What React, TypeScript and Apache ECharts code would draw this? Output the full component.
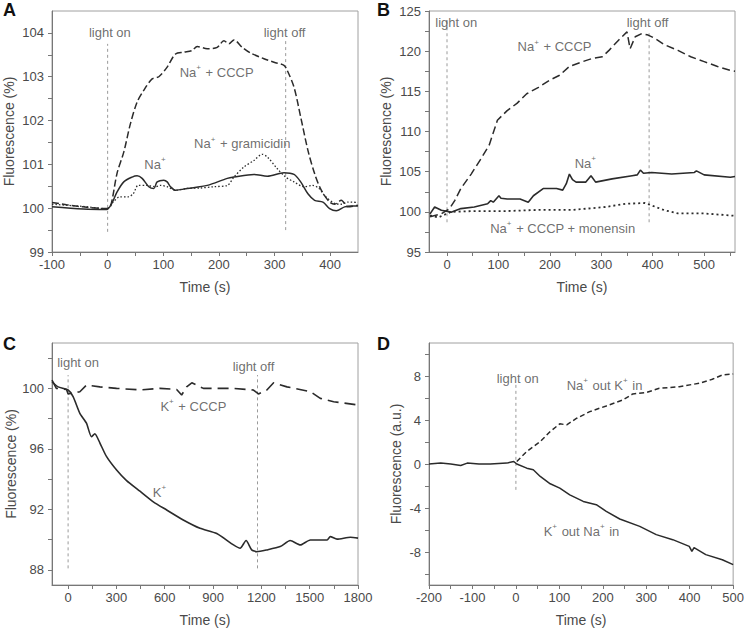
import React, { useEffect, useRef } from 'react';
import * as echarts from 'echarts';

// ---------- Panel A : Na+ experiments (time s, fluorescence %) ----------
const A_NA_CCCP: [number, number][] = [
  [-100, 100.13], [-74, 100.08], [-44, 100.03], [-2, 99.99], [5, 100.03], [17, 100.8], [29, 101.28],
  [41, 101.93], [53, 102.42], [65, 102.69], [80, 102.95], [92, 103.0], [107, 103.22], [122, 103.52],
  [137, 103.56], [152, 103.6], [161, 103.69], [179, 103.64], [197, 103.67], [209, 103.82], [218, 103.75],
  [227, 103.84], [242, 103.67], [257, 103.54], [281, 103.41], [299, 103.33], [317, 103.26], [323, 103.14],
  [335, 102.76], [347, 102.08], [360, 101.32], [372, 100.79], [384, 100.41], [399, 100.14], [408, 100.09],
  [420, 100.18], [432, 100.03], [450, 100.07],
];
const A_NA: [number, number][] = [
  [-100, 100.03], [-44, 99.98], [-2, 99.97], [7, 100.1], [17, 100.37], [29, 100.6], [44, 100.71],
  [53, 100.74], [62, 100.68], [74, 100.49], [83, 100.45], [89, 100.6], [101, 100.64], [107, 100.6],
  [113, 100.49], [122, 100.41], [143, 100.45], [179, 100.52], [215, 100.68], [227, 100.71], [263, 100.77],
  [287, 100.73], [317, 100.81], [335, 100.77], [347, 100.6], [360, 100.33], [372, 100.18], [387, 100.14],
  [399, 99.99], [411, 99.94], [426, 100.03], [438, 100.05], [450, 100.05],
];
const A_NA_GRAMICIDIN: [number, number][] = [
  [-100, 100.09], [-44, 100.04], [-2, 99.99], [10, 100.14], [22, 100.26], [37, 100.26], [46, 100.33],
  [55, 100.52], [70, 100.52], [86, 100.49], [95, 100.52], [107, 100.49], [122, 100.41], [143, 100.45],
  [167, 100.46], [191, 100.49], [215, 100.52], [227, 100.71], [245, 100.94], [263, 101.09], [278, 101.23],
  [287, 101.17], [305, 100.9], [320, 100.71], [335, 100.6], [353, 100.49], [368, 100.52], [380, 100.45],
  [392, 100.26], [408, 100.11], [420, 100.09], [432, 100.14], [450, 100.13],
];

// ---------- Panel B ----------
const B_NA_CCCP: [number, number][] = [
  [-33, 99.4], [-11, 99.75], [5, 100.4], [15, 101.4], [27, 102.9], [47, 104.7], [66, 106.6], [82, 108.3],
  [98, 111.4], [117, 112.6], [136, 113.5], [155, 114.7], [178, 115.5], [200, 116.4], [219, 117.0],
  [238, 118.1], [264, 118.7], [283, 119.1], [302, 119.3], [315, 120.1], [334, 121.4], [350, 122.4],
  [356, 120.3], [366, 121.8], [379, 122.2], [391, 122.0], [404, 121.6], [423, 120.8], [449, 120.1],
  [474, 119.3], [500, 118.7], [526, 118.1], [551, 117.6], [560, 117.5],
];
const B_NA: [number, number][] = [
  [-33, 99.75], [-24, 100.6], [-11, 100.2], [8, 99.96], [27, 100.4], [53, 100.6], [79, 101.0], [85, 101.4],
  [90, 101.2], [101, 102.0], [105, 101.7], [117, 101.6], [142, 101.6], [158, 101.2], [168, 102.0],
  [187, 102.9], [213, 102.9], [225, 102.7], [232, 103.5], [238, 104.7], [244, 104.0], [251, 103.7],
  [270, 103.7], [280, 104.5], [289, 103.7], [321, 104.1], [360, 104.5], [370, 104.6], [376, 105.2],
  [382, 104.8], [398, 104.9], [437, 104.7], [481, 104.9], [485, 105.1], [500, 104.6], [551, 104.3],
  [560, 104.4],
];
const B_NA_CCCP_MONENSIN: [number, number][] = [
  [-33, 99.55], [-17, 99.3], [8, 100.0], [53, 100.1], [117, 100.1], [181, 100.25], [245, 100.25],
  [308, 100.6], [347, 101.0], [385, 101.1], [398, 100.8], [423, 100.2], [449, 99.8], [500, 99.8],
  [551, 99.55], [560, 99.5],
];

// ---------- Panel C ----------
const C_K_CCCP: [number, number][] = [
  [-100, 100.55], [-73, 100.0], [-10, 99.93], [0, 99.63], [73, 99.78], [114, 100.22], [197, 100.1],
  [301, 100.0], [446, 99.9], [570, 100.0], [674, 99.93], [705, 99.56], [736, 100.1], [768, 100.37],
  [840, 100.0], [1027, 100.0], [1151, 99.89], [1182, 99.63], [1234, 99.89], [1276, 100.37], [1359, 100.1],
  [1504, 99.78], [1566, 99.34], [1649, 99.12], [1800, 98.9],
];
const C_K: [number, number][] = [
  [-100, 100.44], [-62, 100.1], [0, 99.89], [31, 99.45], [73, 98.35], [114, 97.7], [145, 96.8],
  [166, 97.0], [197, 96.4], [238, 95.5], [301, 94.6], [363, 93.9], [446, 93.2], [529, 92.5], [612, 91.96],
  [715, 91.3], [819, 90.75], [923, 90.4], [1027, 89.65], [1068, 89.43], [1105, 89.94], [1140, 89.32],
  [1172, 89.2], [1234, 89.32], [1317, 89.54], [1379, 89.94], [1442, 89.65], [1504, 89.98], [1608, 89.98],
  [1628, 90.2], [1670, 90.03], [1753, 90.16], [1800, 90.1],
];

// ---------- Panel D ----------
const D_K_OUT_NA_IN: [number, number][] = [
  [-200, 0.0], [-173, 0.08], [-150, 0.0], [-127, -0.14], [-112, 0.08], [-85, 0.0], [-59, 0.0],
  [-40, 0.05], [-21, 0.08], [-5, 0.23], [2, 0.0], [25, -0.38], [40, -0.53], [56, -1.13], [79, -1.8],
  [101, -2.19], [124, -2.8], [155, -3.4], [185, -3.7], [208, -4.3], [239, -5.0], [285, -5.67],
  [323, -6.42], [361, -6.88], [399, -7.49], [405, -7.95], [410, -7.6], [437, -8.24], [475, -8.7],
  [500, -9.15],
];
const D_NA_OUT_K_IN: [number, number][] = [
  [2, 0.23], [25, 1.13], [56, 2.04], [79, 2.95], [101, 3.65], [117, 3.56], [140, 4.16], [170, 4.76],
  [208, 5.28], [246, 5.82], [269, 6.37], [300, 6.49], [330, 6.88], [376, 7.03], [422, 7.34], [452, 7.7],
  [475, 8.09], [500, 8.18],
];

// ---------- light on / off markers (panel, time, y from, y to) ----------
const LIGHT_MARKS: [number, number, number, number][] = [
  [0, 0, 99.46, 103.75],
  [0, 320, 99.5, 103.86],
  [1, 0, 98.7, 123.7],
  [1, 393, 98.7, 122.4],
  [2, 0, 88.1, 100.88],
  [2, 1176, 88.1, 100.88],
  [3, 0, -2.35, 7.2],
];

// ---------- text annotations (panel, time, y, rich text) ----------
const ANNOTATIONS: [number, number, number, string][] = [
  [0, 4, 104.03, '{n|light on}'],
  [0, 318, 104.03, '{n|light off}'],
  [0, 196, 103.13, '{n|Na}{s|+}{n| + CCCP}'],
  [0, 242, 101.49, '{n|Na}{s|+}{n| + gramicidin}'],
  [0, 86, 101.02, '{n|Na}{s|+}'],
  [1, 18, 123.7, '{n|light on}'],
  [1, 390, 123.7, '{n|light off}'],
  [1, 209, 120.7, '{n|Na}{s|+}{n| + CCCP}'],
  [1, 270, 106.2, '{n|Na}{s|+}'],
  [1, 225, 98.1, '{n|Na}{s|+}{n| + CCCP + monensin}'],
  [2, 62, 101.76, '{n|light on}'],
  [2, 1151, 101.5, '{n|light off}'],
  [2, 778, 98.9, '{n|K}{s|+}{n| + CCCP}'],
  [2, 570, 93.2, '{n|K}{s|+}'],
  [3, 4, 7.9, '{n|light on}'],
  [3, 204, 7.25, '{n|Na}{s|+}{n| out K}{s|+}{n| in}'],
  [3, 151, -6.0, '{n|K}{s|+}{n| out Na}{s|+}{n| in}'],
];

// ---------- axes ----------
const X_RANGES: [number, number][] = [[-100, 450], [-35, 560], [-100, 1800], [-200, 500]];
const Y_RANGES: [number, number][] = [[99, 104.5], [95, 125], [87, 103], [-11, 11]];
const X_LABELS: number[][] = [
  [-100, 0, 100, 200, 300, 400],
  [0, 100, 200, 300, 400, 500],
  [0, 300, 600, 900, 1200, 1500, 1800],
  [-200, -100, 0, 100, 200, 300, 400, 500],
];
const X_TICKS: number[][] = [
  [-100, -50, 0, 50, 100, 150, 200, 250, 300, 350, 400],
  [0, 50, 100, 150, 200, 250, 300, 350, 400, 450, 500, 550],
  [0, 150, 300, 450, 600, 750, 900, 1050, 1200, 1350, 1500, 1650, 1800],
  [-200, -150, -100, -50, 0, 50, 100, 150, 200, 250, 300, 350, 400, 450, 500],
];
const Y_LABELS: number[][] = [
  [99, 100, 101, 102, 103, 104],
  [95, 100, 105, 110, 115, 120, 125],
  [88, 92, 96, 100],
  [-8, -4, 0, 4, 8],
];
const Y_TICKS: number[][] = [
  [99, 99.5, 100, 100.5, 101, 101.5, 102, 102.5, 103, 103.5, 104],
  [95, 97.5, 100, 102.5, 105, 107.5, 110, 112.5, 115, 117.5, 120, 122.5, 125],
  [88, 90, 92, 94, 96, 98, 100, 102],
  [-10, -8, -6, -4, -2, 0, 2, 4, 6, 8, 10],
];
const Y_TITLES = ['Fluorescence (%)', 'Fluorescence (%)', 'Fluorescence (%)', 'Fluorescence (a.u.)'];
const PANEL_LETTERS = ['A', 'B', 'C', 'D'];

const FONT = '"Liberation Sans", Arial, Helvetica, sans-serif';
const LINE = '#2b2b2b';
const TEXT = '#4a4a4a';

export default function App() {
  const ref = useRef<HTMLDivElement>(null);
  useEffect(() => {
    if (!ref.current) return;
    const chart = echarts.init(ref.current, undefined, { renderer: 'svg' });

    const grids = [
      { left: 52, top: 11, width: 306, height: 241 },
      { left: 429, top: 11, width: 306, height: 241 },
      { left: 52, top: 343, width: 306, height: 242 },
      { left: 429, top: 343, width: 306, height: 242 },
    ].map((g) => ({ ...g, show: true, borderColor: '#a0a0a0', borderWidth: 1, backgroundColor: 'transparent' }));

    const yGaps = [36, 36, 34, 26];

    const xAxes = X_RANGES.map((r, i) => ({
      type: 'value',
      gridIndex: i,
      min: r[0],
      max: r[1],
      name: 'Time (s)',
      nameLocation: 'middle',
      nameGap: 28,
      nameTextStyle: { fontFamily: FONT, fontSize: 14, color: TEXT },
      axisLine: { show: true, onZero: false, lineStyle: { color: '#777', width: 1 } },
      axisTick: { show: true, inside: false, length: 4, customValues: X_TICKS[i], lineStyle: { color: '#777' } },
      axisLabel: {
        show: true, customValues: X_LABELS[i], margin: 6, fontFamily: FONT, fontSize: 13, color: TEXT,
        showMinLabel: true, showMaxLabel: true, hideOverlap: false,
        formatter: (v: number) => String(v),
      },
      splitLine: { show: false },
    }));

    const yAxes = Y_RANGES.map((r, i) => ({
      type: 'value',
      gridIndex: i,
      min: r[0],
      max: r[1],
      name: Y_TITLES[i],
      nameLocation: 'middle',
      nameGap: yGaps[i],
      nameTextStyle: { fontFamily: FONT, fontSize: 14, color: TEXT },
      axisLine: { show: true, onZero: false, lineStyle: { color: '#777', width: 1 } },
      axisTick: { show: true, inside: false, length: 4, customValues: Y_TICKS[i], lineStyle: { color: '#777' } },
      axisLabel: {
        show: true, customValues: Y_LABELS[i], margin: 8, fontFamily: FONT, fontSize: 13, color: TEXT,
        showMinLabel: true, showMaxLabel: true, hideOverlap: false,
        formatter: (v: number) => String(v),
      },
      splitLine: { show: false },
    }));

    const line = (panel: number, data: [number, number][], type: any, width: number, smooth: number | boolean) => ({
      type: 'line',
      xAxisIndex: panel,
      yAxisIndex: panel,
      data,
      symbol: 'none',
      showSymbol: false,
      smooth,
      silent: true,
      z: 3,
      lineStyle: { color: LINE, width, type },
    });

    const series: any[] = [
      line(0, A_NA_CCCP, [7, 3], 1.5, 0.3),
      line(0, A_NA, 'solid', 1.5, 0.3),
      line(0, A_NA_GRAMICIDIN, [1.5, 2], 1.3, 0.3),
      line(1, B_NA_CCCP, [8, 4], 1.5, false),
      line(1, B_NA, 'solid', 1.6, false),
      line(1, B_NA_CCCP_MONENSIN, [2, 3], 1.8, false),
      line(2, C_K_CCCP, [11, 6], 1.6, false),
      line(2, C_K, 'solid', 1.6, 0.2),
      line(3, D_K_OUT_NA_IN, 'solid', 1.5, false),
      line(3, D_NA_OUT_K_IN, [5, 3], 1.5, false),
    ];

    LIGHT_MARKS.forEach(([p, t, y0, y1]) => {
      series.push({
        type: 'line',
        xAxisIndex: p,
        yAxisIndex: p,
        data: [[t, y0], [t, y1]],
        symbol: 'none',
        silent: true,
        z: 2,
        lineStyle: { color: '#9a9a9a', width: 1, type: [3, 3] },
      });
    });

    [0, 1, 2, 3].forEach((p) => {
      series.push({
        type: 'scatter',
        xAxisIndex: p,
        yAxisIndex: p,
        symbolSize: 1,
        silent: true,
        z: 5,
        itemStyle: { color: 'transparent' },
        data: ANNOTATIONS.filter((a) => a[0] === p).map((a) => ({ value: [a[1], a[2]], rich: a[3] })),
        label: {
          show: true,
          position: 'inside',
          formatter: (params: any) => params.data.rich,
          rich: {
            n: { fontFamily: FONT, fontSize: 13, color: TEXT, lineHeight: 15, verticalAlign: 'bottom' },
            s: { fontFamily: FONT, fontSize: 8, color: TEXT, lineHeight: 15, verticalAlign: 'top', padding: [0, 1, 0, 0] },
          },
        },
      });
    });

    const letterPos: [number, number][] = [[3, 1], [377, 1], [3, 335], [377, 335]];
    const graphic = PANEL_LETTERS.map((l, i) => ({
      type: 'text',
      left: letterPos[i][0],
      top: letterPos[i][1],
      style: { text: l, fontFamily: FONT, fontSize: 18, fontWeight: 'bold', fill: '#111' },
    }));

    chart.setOption({
      animation: false,
      backgroundColor: '#ffffff',
      grid: grids,
      xAxis: xAxes,
      yAxis: yAxes,
      series,
      graphic,
    });
    return () => chart.dispose();
  }, []);

  return (
    <div
      ref={ref}
      style={{ position: 'fixed', left: 0, top: 0, width: 747, height: 632, background: '#fff' }}
    />
  );
}
